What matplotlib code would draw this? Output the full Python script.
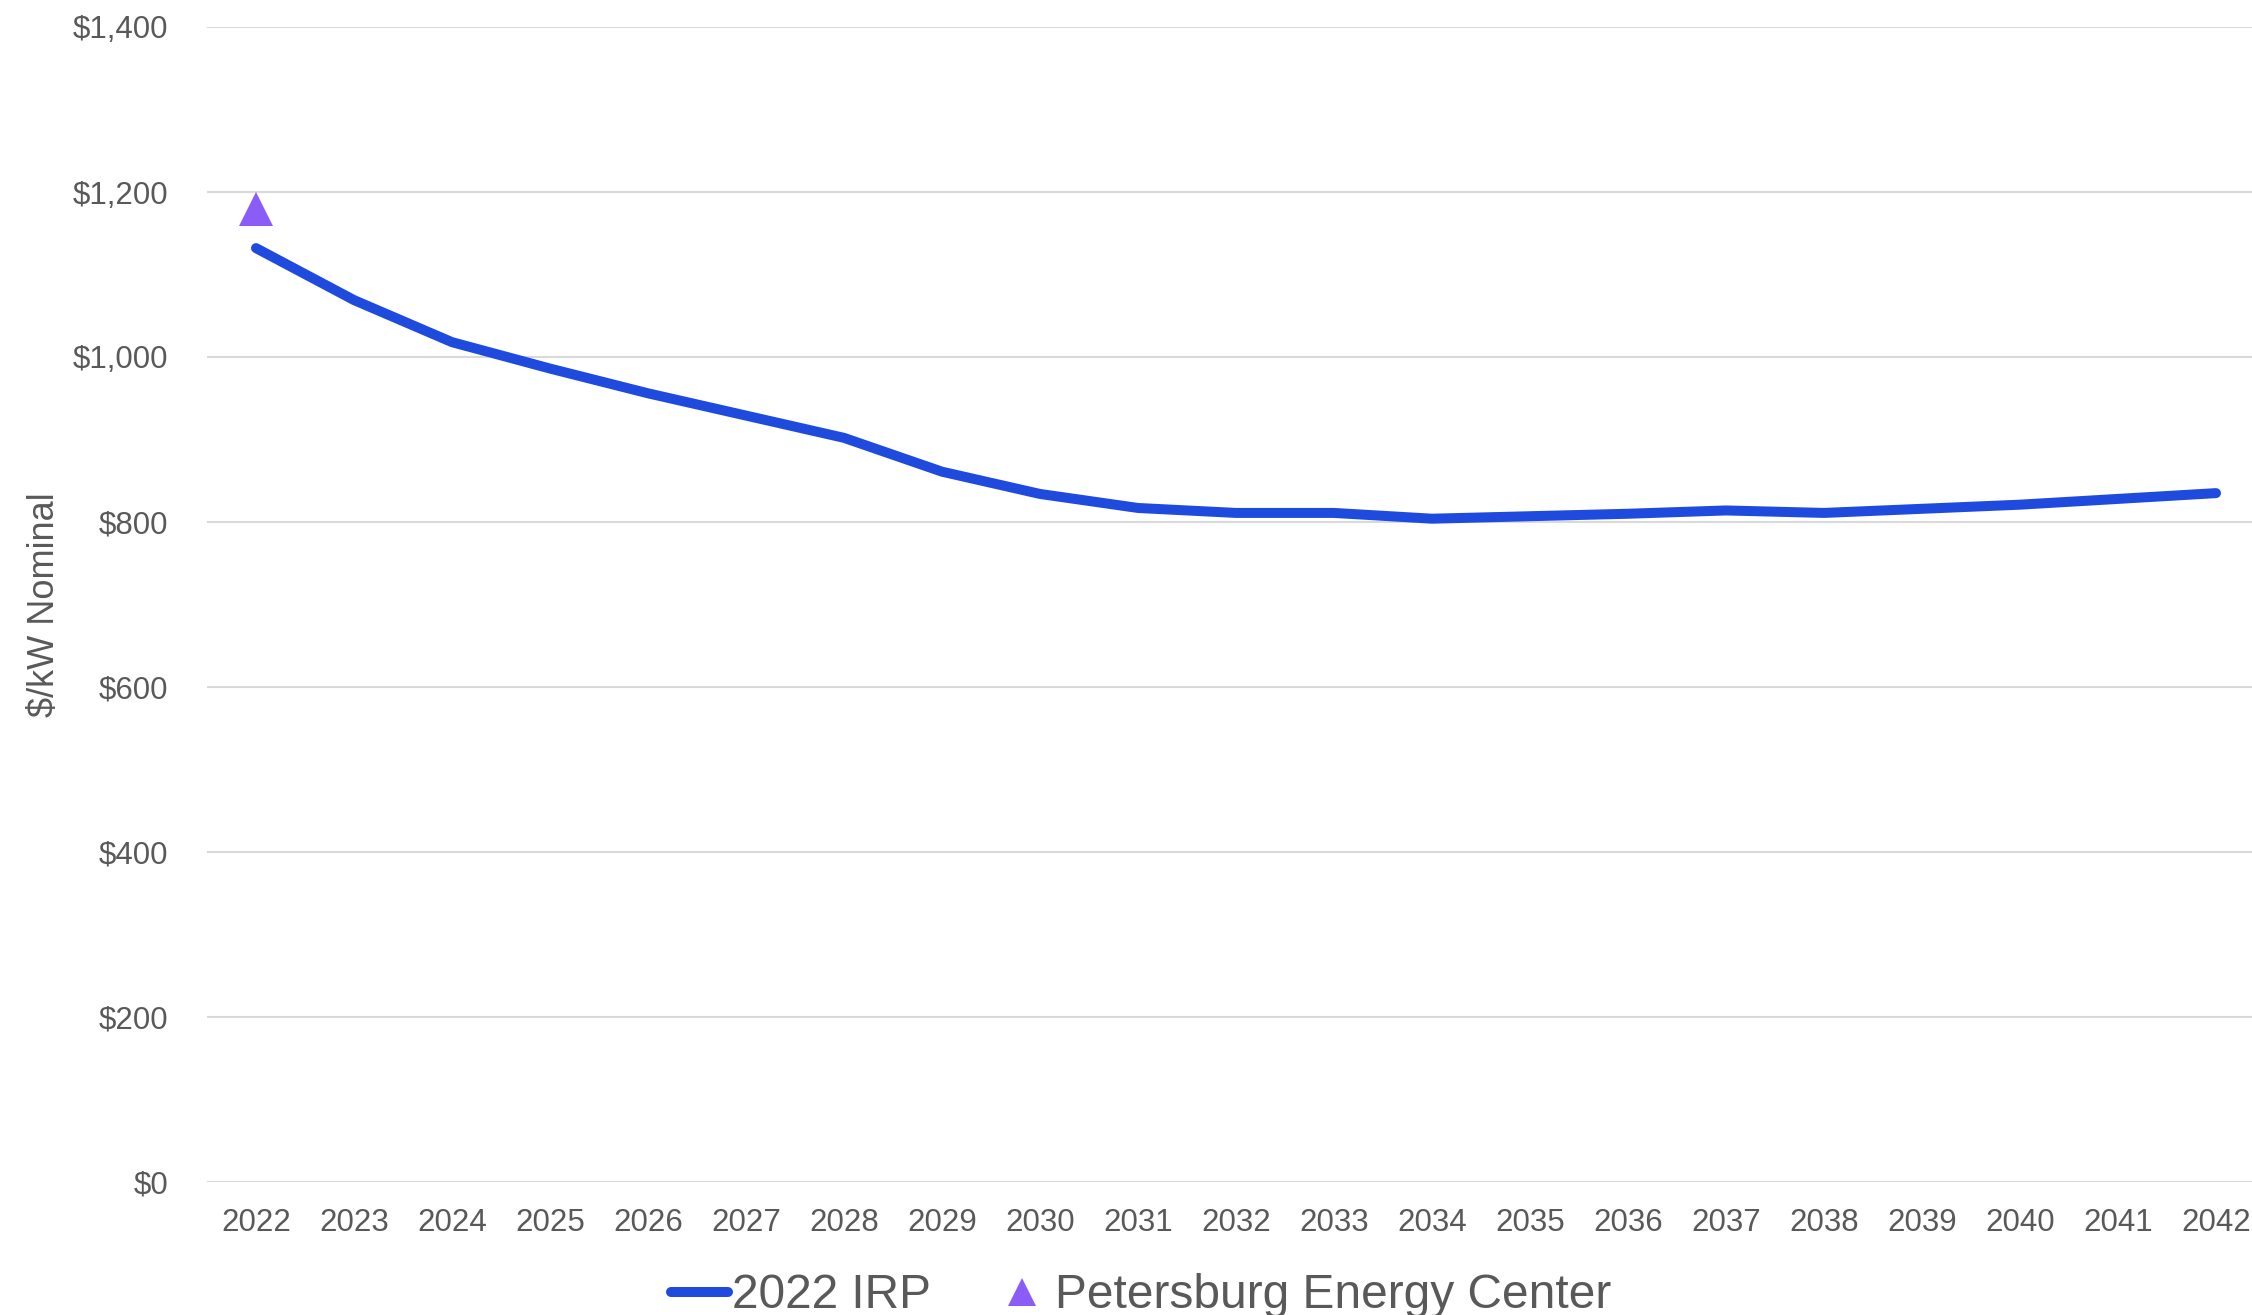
import matplotlib
matplotlib.use('Agg')
import matplotlib.pyplot as plt
from matplotlib.lines import Line2D

plt.rcParams['font.family'] = ['Liberation Sans', 'DejaVu Sans']

YEARS = list(range(2022, 2043))
IRP_2022 = [1132, 1069, 1018, 986, 956, 929, 902, 861, 834, 817, 811, 811, 804,
            807, 810, 814, 811, 816, 821, 828, 835]
PETERSBURG_YEAR = [2022]
PETERSBURG_COST = [1180]
Y_TICKS = [0, 200, 400, 600, 800, 1000, 1200, 1400]

LINE_BLUE = '#1f4ade'
PURPLE = '#8b5cf6'
TEXT_GREY = '#595959'
GRID_GREY = '#d9d9d9'

fig = plt.figure(figsize=(22.52, 13.15), dpi=100)
ax = fig.add_axes([207 / 2252, 1 - 1182 / 1315, 2058 / 2252, 1155 / 1315])

ax.plot(YEARS, IRP_2022, color=LINE_BLUE, linewidth=7.2, solid_capstyle='round',
        solid_joinstyle='round', zorder=3)
ax.plot(PETERSBURG_YEAR, PETERSBURG_COST, linestyle='none', marker='^',
        markersize=24.5, color=PURPLE, markeredgewidth=0, zorder=4)

ax.set_xlim(2021.5, 2042.5)
ax.set_ylim(0, 1400)
ax.set_xticks(YEARS)
ax.set_xticklabels([str(y) for y in YEARS])
ax.set_yticks(Y_TICKS)
ax.set_yticklabels([f'${v:,}' for v in Y_TICKS])
ax.tick_params(axis='both', length=0, labelsize=22.5, labelcolor=TEXT_GREY)
ax.tick_params(axis='x', pad=19)
ax.tick_params(axis='y', pad=28)
ax.grid(axis='y', color=GRID_GREY, linewidth=1.5)
ax.set_axisbelow(True)
for s in ax.spines.values():
    s.set_visible(False)

fig.text(44 / 2252, 1 - 605 / 1315, '$/kW Nominal', rotation=90, fontsize=26,
         color=TEXT_GREY, ha='center', va='center')

handles = [
    Line2D([], [], color=LINE_BLUE, linewidth=7.2, solid_capstyle='round'),
    Line2D([], [], linestyle='none', marker='^', markersize=19.5, color=PURPLE,
           markeredgewidth=0),
]
fig.legend(handles, ['2022 IRP', 'Petersburg Energy Center'], ncol=2,
           loc='center', bbox_to_anchor=(1141 / 2252, 19 / 1315), frameon=False,
           fontsize=34.5, labelcolor=TEXT_GREY, handlelength=1.2,
           handletextpad=0.08, columnspacing=1.3, borderpad=0, borderaxespad=0)

fig.savefig('out.png', dpi=100, facecolor='white')
